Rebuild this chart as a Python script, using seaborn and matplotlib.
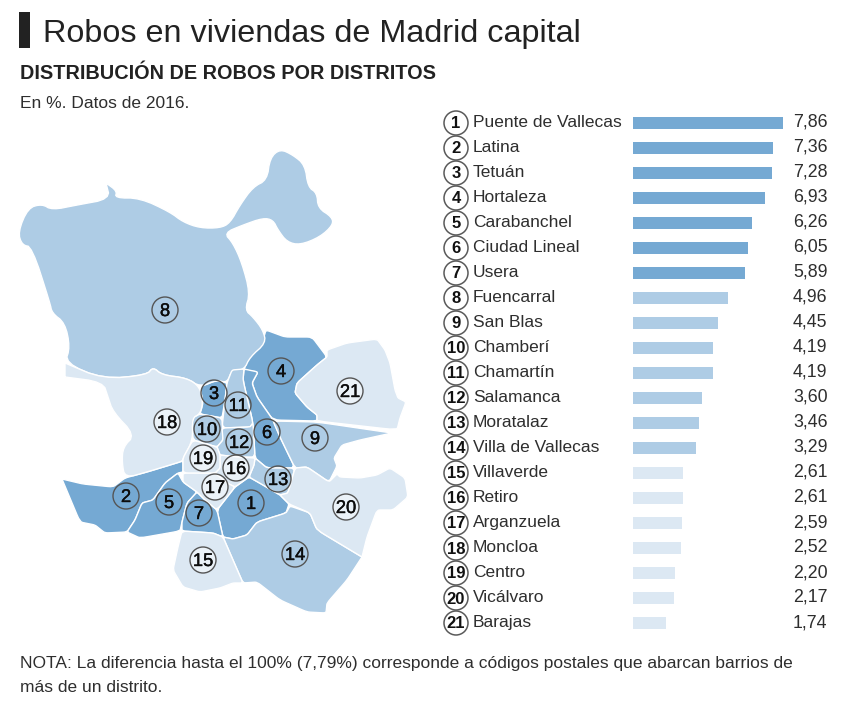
import matplotlib
matplotlib.use("Agg")
import matplotlib.pyplot as plt
import matplotlib.patheffects as pe
from matplotlib.patches import Circle, Rectangle
from matplotlib.transforms import blended_transform_factory
import numpy as np
import pandas as pd
import seaborn as sns

sns.set_theme(style="white")
plt.rcParams["font.family"] = ["Liberation Sans", "DejaVu Sans"]

# District ranking
districts = ["Puente de Vallecas", "Latina", "Tetuán", "Hortaleza", "Carabanchel",
             "Ciudad Lineal", "Usera", "Fuencarral", "San Blas", "Chamberí",
             "Chamartín", "Salamanca", "Moratalaz", "Villa de Vallecas", "Villaverde",
             "Retiro", "Arganzuela", "Moncloa", "Centro", "Vicálvaro", "Barajas"]
shares = [7.86, 7.36, 7.28, 6.93, 6.26, 6.05, 5.89, 4.96, 4.45, 4.19, 4.19,
          3.60, 3.46, 3.29, 2.61, 2.61, 2.59, 2.52, 2.20, 2.17, 1.74]
share_labels = ["7,86", "7,36", "7,28", "6,93", "6,26", "6,05", "5,89", "4,96", "4,45",
                "4,19", "4,19", "3,60", "3,46", "3,29", "2,61", "2,61", "2,59", "2,52",
                "2,20", "2,17", "1,74"]
tiers = ["alto"] * 7 + ["medio"] * 7 + ["bajo"] * 7
tier_colors = {"alto": "#75A9D3", "medio": "#AECCE5", "bajo": "#DCE8F3"}

# District outlines on the map, listed in ranking order
puente_vallecas = [(249, 477), (263, 485), (280, 495), (289, 504), (286, 513), (257, 522), (247, 535),
                   (233, 539), (223, 537), (217, 510), (235, 487)]
latina = [(183, 461), (183, 472), (178, 473), (165, 483), (153, 500), (142, 503), (135, 520), (127, 532),
          (105, 533), (95, 525), (80, 522), (62, 479), (62, 479), (83, 484), (113, 487), (125, 478), (147, 472),
          (170, 465)]
tetuan = [(200, 387), (217, 380), (227, 383), (225, 400), (222, 418), (200, 414), (203, 403)]
hortaleza = [(266, 330), (285, 337), (312, 337), (327, 357), (317, 365), (297, 383), (295, 393),
             (307, 407), (317, 415), (317, 421), (273, 420), (257, 397), (252, 383), (258, 372),
             (244, 370), (248, 358), (263, 340)]
carabanchel = [(178, 473), (183, 482), (197, 492), (187, 503), (182, 522), (180, 531), (140, 538),
               (127, 532), (135, 520), (142, 503), (153, 500), (165, 483)]
ciudad_lineal = [(244, 369), (258, 372), (252, 383), (257, 397), (273, 420), (280, 437), (295, 468),
                 (267, 468), (255, 458), (253, 423), (243, 380)]
usera = [(197, 492), (205, 500), (217, 510), (223, 537), (213, 533), (182, 531), (182, 522), (187, 503)]
fuencarral = [(18, 232), (28, 208), (42, 204), (52, 210), (77, 205), (110, 199), (106, 183), (106, 183),
              (117, 191), (115, 198), (140, 198), (170, 212), (183, 222), (200, 228), (220, 228), (230, 223),
              (240, 205), (253, 187), (267, 180), (270, 158), (280, 149), (293, 155), (305, 165),
              (308, 187), (317, 193), (318, 208), (332, 217), (333, 225), (320, 237), (300, 245),
              (287, 242), (278, 230), (273, 220), (263, 218), (243, 225), (224, 233), (233, 243),
              (242, 263), (250, 293), (245, 310), (253, 317), (263, 330), (266, 343), (250, 357),
              (244, 370), (232, 370), (227, 383), (217, 380), (200, 387), (187, 378), (162, 375),
              (153, 367), (147, 375), (103, 379), (65, 363), (70, 347), (65, 323), (52, 313),
              (50, 303), (32, 247), (22, 245)]
san_blas = [(273, 421), (317, 422), (392, 433), (392, 433), (360, 440), (342, 445), (334, 458), (337, 466),
            (329, 482), (307, 467), (295, 468), (280, 437)]
chamberi = [(192, 418), (200, 414), (222, 418), (223, 440), (217, 447), (193, 440)]
chamartin = [(232, 370), (244, 369), (243, 380), (253, 423), (250, 427), (222, 428), (225, 400), (227, 383)]
salamanca = [(222, 428), (250, 427), (253, 423), (255, 457), (237, 457), (220, 455), (217, 447), (223, 440)]
moratalaz = [(255, 458), (267, 468), (295, 468), (288, 493), (280, 495), (263, 485), (249, 477), (254, 465)]
villa_vallecas = [(223, 537), (233, 539), (247, 535), (257, 522), (286, 513), (290, 506), (310, 513),
                  (317, 530), (362, 557), (362, 557), (347, 580), (327, 603), (326, 613), (307, 612), (280, 600),
                  (257, 582), (243, 583), (233, 560)]
villaverde = [(182, 531), (213, 533), (223, 537), (233, 560), (243, 583), (233, 583), (220, 588),
              (200, 592), (183, 587), (173, 570), (178, 547)]
retiro = [(220, 455), (237, 457), (255, 458), (254, 465), (249, 477), (235, 487), (227, 483), (215, 473),
          (220, 468)]
arganzuela = [(183, 473), (215, 473), (227, 483), (235, 487), (217, 510), (205, 500), (197, 492), (183, 482)]
moncloa = [(65, 363), (65, 363), (103, 379), (147, 375), (153, 367), (162, 375), (187, 378), (200, 387), (203, 403),
           (200, 414), (192, 418), (193, 440), (183, 458), (183, 461), (170, 465), (147, 472), (125, 478),
           (122, 463), (123, 447), (135, 435), (113, 412), (108, 397), (103, 382), (65, 377), (65, 377)]
centro = [(193, 440), (217, 447), (220, 455), (220, 468), (215, 473), (183, 473), (183, 458)]
vicalvaro = [(295, 468), (307, 467), (329, 482), (337, 474), (340, 477), (360, 478), (377, 475), (390, 468),
             (405, 478), (408, 497), (393, 510), (377, 510), (367, 537), (362, 557), (362, 557), (317, 530), (310, 513),
             (289, 504), (280, 495), (288, 493)]
barajas = [(327, 357), (327, 350), (347, 343), (377, 339), (385, 350), (390, 363), (395, 390), (398, 398),
           (406, 402), (400, 418), (397, 430), (317, 421), (317, 415), (307, 407), (295, 393), (297, 383),
           (317, 365)]
outlines = [puente_vallecas, latina, tetuan, hortaleza, carabanchel, ciudad_lineal, usera, fuencarral,
            san_blas, chamberi, chamartin, salamanca, moratalaz, villa_vallecas, villaverde, retiro,
            arganzuela, moncloa, centro, vicalvaro, barajas]

# Number badges on the map
badge_x = [251, 126, 214, 281, 169, 267, 199, 165, 315, 207, 238, 239, 278, 295, 203, 236, 215, 167, 203, 346, 350]
badge_y = [503, 496, 393, 371, 502, 432, 513, 310, 438, 429, 405, 442, 479, 554, 560, 468, 487, 422, 458, 507, 391]

TITLE = "Robos en viviendas de Madrid capital"
SUBTITLE = "DISTRIBUCIÓN DE ROBOS POR DISTRITOS"
UNITS = "En %. Datos de 2016."
NOTE_LINES = ["NOTA: La diferencia hasta el 100% (7,79%) corresponde a códigos postales que abarcan barrios de",
              "más de un distrito."]


def rounded(outline, passes=2):
    """Cut the corners of a closed outline; long outlines get a deeper cut than small districts."""
    pts = np.asarray(outline, dtype=float)
    cut = 0.25 if len(pts) >= 22 else 0.1
    for _ in range(passes):
        nxt = np.roll(pts, -1, axis=0)
        pts = np.column_stack([(1 - cut) * pts + cut * nxt, cut * pts + (1 - cut) * nxt]).reshape(-1, 2)
    return pts


W, H = 865, 714
fig = plt.figure(figsize=(W / 100, H / 100), dpi=100, facecolor="white")

# Page-wide layer measured in pixels, with y running downward
canvas = fig.add_axes([0, 0, 1, 1])
canvas.set_xlim(0, W)
canvas.set_ylim(H, 0)
canvas.axis("off")

# Bar panel
bars = fig.add_axes([633 / W, 1 - 635.5 / H, 190.8 / W, 525 / H])
table = pd.DataFrame({"distrito": districts, "cuota": shares, "nivel": tiers})
sns.barplot(data=table, y="distrito", x="cuota", hue="nivel", palette=tier_colors, dodge=False,
            width=0.48, saturation=1, legend=False, ax=bars, linewidth=0)
bars.set_xlim(0, 10)
bars.set_ylim(20.5, -0.5)
bars.axis("off")

row_tf = blended_transform_factory(canvas.transData, bars.transData)
TEXT = "#2e2e2e"
for i, (name, label) in enumerate(zip(districts, share_labels)):
    canvas.add_patch(Circle((456, 123 + 25 * i), 12, facecolor="white", edgecolor="#5a5a5a",
                            linewidth=1.1, zorder=3))
    canvas.text(456, i + 0.22, str(i + 1), transform=row_tf, ha="center", va="baseline", fontsize=12,
                fontweight="bold", color="#111111", zorder=4)
    canvas.text(473, i + 0.16, name, transform=row_tf, ha="left", va="baseline", fontsize=12.5, color=TEXT)
    canvas.text(793, i + 0.16, label, transform=row_tf, ha="left", va="baseline", fontsize=12.8, color=TEXT)

# Map
for outline, tier in zip(outlines, tiers):
    pts = rounded(outline)
    canvas.fill(pts[:, 0], pts[:, 1], facecolor=tier_colors[tier], edgecolor="white", linewidth=1.0,
                joinstyle="round", zorder=1)
for i, (x, y) in enumerate(zip(badge_x, badge_y)):
    fill = (1, 1, 1, 0.45) if tiers[i] == "bajo" else (1, 1, 1, 0.0)
    canvas.add_patch(Circle((x, y), 13, facecolor=fill, edgecolor="#555555", linewidth=1.0, zorder=2))
    canvas.text(x, y + 6, str(i + 1), ha="center", va="baseline", fontsize=13.2, color="#0c0c0c", zorder=3,
                path_effects=[pe.withStroke(linewidth=0.3, foreground="#0c0c0c")])

# Headings and footnote
canvas.add_patch(Rectangle((19, 12), 11, 36, facecolor="#222222", edgecolor="none"))
canvas.text(43, 42, TITLE, fontsize=23.3, color="#222222", ha="left", va="baseline")
canvas.text(20, 79, SUBTITLE, fontsize=14.3, fontweight="bold", color="#222222", ha="left", va="baseline")
canvas.text(20, 108, UNITS, fontsize=12.5, color=TEXT, ha="left", va="baseline")
canvas.text(20, 668, NOTE_LINES[0], fontsize=12.5, color=TEXT, ha="left", va="baseline")
canvas.text(20, 692, NOTE_LINES[1], fontsize=12.5, color=TEXT, ha="left", va="baseline")

fig.savefig("out.png", dpi=100, facecolor="white")
